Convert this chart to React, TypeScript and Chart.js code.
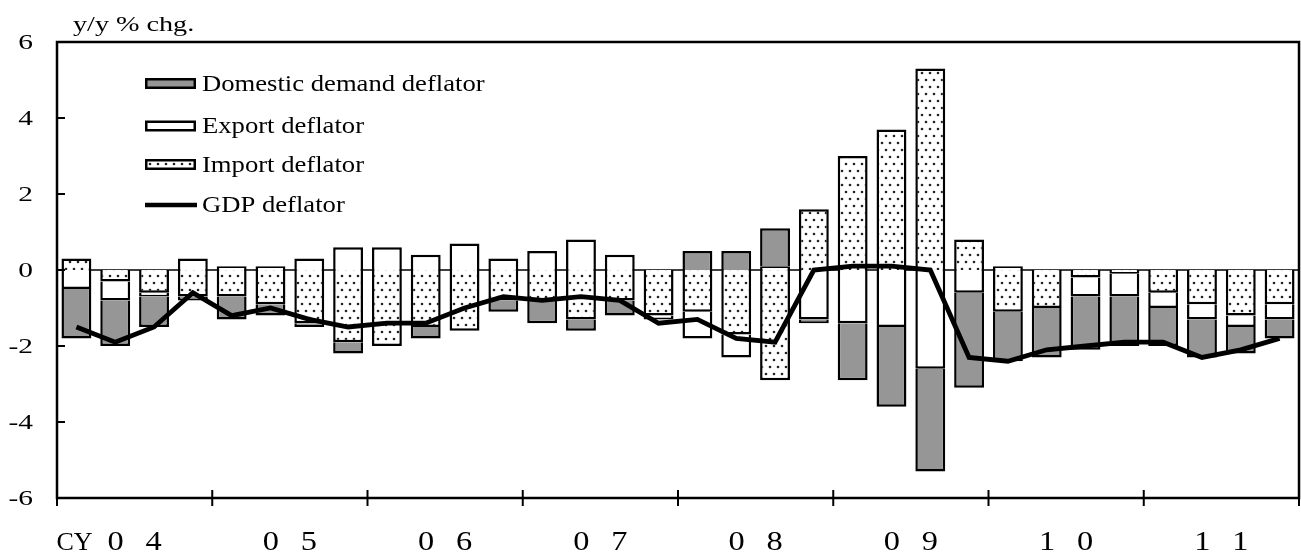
import React, { useEffect, useRef } from "react";
import { Chart, registerables } from "chart.js";

Chart.register(...registerables);

// ---- Data ----
const years = ["04", "05", "06", "07", "08", "09", "10", "11"];
const quarterLabels = years.flatMap((y) => ["Q1", "Q2", "Q3", "Q4"].map((q) => `${y}${q}`));

const domesticDemand = [
  -1.3, -1.2, -0.8, -0.1, -0.6, -0.3, -0.1, -0.3,
  0, -0.3, 0, -0.3, -0.6, -0.3, -0.4, 0,
  0.5, 0.5, 1.0, -0.1, -1.5, -2.1, -2.7, -2.5,
  -1.3, -1.3, -1.4, -1.3, -1.0, -1.0, -0.7, -0.5,
];
const exportDeflator = [
  -0.5, -0.5, -0.1, 0.3, 0.1, 0.1, 0.3, 0.6,
  0.6, 0.4, 0.7, 0.3, 0.5, 0.8, 0.4, -0.1,
  -0.7, -0.6, 0.1, -1.3, -1.4, -1.5, -2.6, -0.6,
  0.1, 0, -0.5, -0.6, -0.4, -0.4, -0.3, -0.4,
];
const importDeflator = [
  0.3, -0.3, -0.6, -0.7, -0.7, -0.9, -1.4, -1.9,
  -2.0, -1.5, -1.6, -0.8, -0.8, -1.3, -0.8, -1.2,
  -1.1, -1.7, -2.9, 1.6, 3.0, 3.7, 5.3, 0.8,
  -1.1, -1.0, -0.2, -0.1, -0.6, -0.9, -1.2, -0.9,
];
const gdpDeflator = [
  -1.5, -1.9, -1.5, -0.6, -1.2, -1.0, -1.3, -1.5,
  -1.4, -1.4, -1.0, -0.7, -0.8, -0.7, -0.8, -1.4,
  -1.3, -1.8, -1.9, 0.0, 0.1, 0.1, 0.0, -2.3,
  -2.4, -2.1, -2.0, -1.9, -1.9, -2.3, -2.1, -1.8,
];
const yTicks = [-6, -4, -2, 0, 2, 4, 6];
const legendLabels = ["Domestic demand deflator", "Export deflator", "Import deflator", "GDP deflator"];
const yTitle = "y/y % chg.";
const xPrefix = "CY";

const GRAY = "#969696";
const SERIF = "'Liberation Serif', 'Times New Roman', serif";

function makeDotPattern(): CanvasPattern | string {
  const c = document.createElement("canvas");
  c.width = 8;
  c.height = 14;
  const g = c.getContext("2d");
  if (!g) return "#fff";
  g.fillStyle = "#fff";
  g.fillRect(0, 0, 8, 14);
  g.fillStyle = "#222";
  g.beginPath();
  g.arc(2, 3, 1.3, 0, Math.PI * 2);
  g.fill();
  g.beginPath();
  g.arc(6, 10, 1.3, 0, Math.PI * 2);
  g.fill();
  const p = g.createPattern(c, "repeat");
  return p || "#fff";
}

function drawText(
  ctx: CanvasRenderingContext2D,
  text: string,
  x: number,
  y: number,
  size: number,
  sx: number,
  align: "left" | "right" | "center",
  baseline: CanvasTextBaseline = "alphabetic"
) {
  ctx.save();
  ctx.font = `${size}px ${SERIF}`;
  ctx.textBaseline = baseline;
  ctx.textAlign = "left";
  const w = ctx.measureText(text).width * sx;
  const left = align === "right" ? x - w : align === "center" ? x - w / 2 : x;
  ctx.translate(left, y);
  ctx.scale(sx, 1);
  ctx.fillStyle = "#000";
  ctx.fillText(text, 0, 0);
  ctx.restore();
}

export default function App() {
  const ref = useRef<HTMLCanvasElement | null>(null);

  useEffect(() => {
    if (!ref.current) return;
    const dots = makeDotPattern();
    const nz = (arr: number[]) => arr.map((v) => (v === 0 ? null : v));

    const decor = {
      id: "decor",
      beforeDatasetsDraw(chart: any) {
        const { ctx, chartArea, scales } = chart;
        const y0 = scales.y.getPixelForValue(0);
        ctx.save();
        ctx.strokeStyle = "#000";
        ctx.lineWidth = 1.5;
        ctx.beginPath();
        ctx.moveTo(chartArea.left, y0);
        ctx.lineTo(chartArea.right, y0);
        ctx.stroke();
        ctx.restore();
      },
      afterDraw(chart: any) {
        const { ctx, chartArea, scales } = chart;
        const { left, right, top, bottom } = chartArea;
        const xs = scales.x;
        const ys = scales.y;
        ctx.save();
        ctx.strokeStyle = "#000";
        ctx.lineWidth = 2.5;
        ctx.strokeRect(left, top, right - left, bottom - top);

        // y ticks (inside) and labels
        ctx.lineWidth = 2;
        yTicks.forEach((v) => {
          const py = ys.getPixelForValue(v);
          ctx.beginPath();
          ctx.moveTo(left, py);
          ctx.lineTo(left + 8, py);
          ctx.stroke();
          drawText(ctx, String(v), 33, py + 1, 21, 1.4, "right", "middle");
        });

        // x year ticks and labels
        const qw = xs.getPixelForValue(1) - xs.getPixelForValue(0);
        years.forEach((yr, i) => {
          const x0 = xs.getPixelForValue(i * 4) - qw / 2;
          ctx.beginPath();
          ctx.moveTo(x0, bottom - 8);
          ctx.lineTo(x0, bottom + 8);
          ctx.stroke();
          const cx = (xs.getPixelForValue(i * 4) + xs.getPixelForValue(i * 4 + 3)) / 2;
          const chars = yr.split("");
          drawText(ctx, chars[0], cx - 19, 550, 27, 1.2, "center");
          drawText(ctx, chars[1], cx + 19, 550, 27, 1.2, "center");
          if (i === 0) drawText(ctx, xPrefix, cx - 42, 550, 26, 1.0, "right");
        });
        const xEnd = xs.getPixelForValue(years.length * 4 - 1) + qw / 2;
        ctx.beginPath();
        ctx.moveTo(xEnd, bottom - 8);
        ctx.lineTo(xEnd, bottom + 8);
        ctx.stroke();

        // title
        drawText(ctx, yTitle, 73, 31, 22, 1.28, "left");

        // legend
        const rows = [83.5, 126, 164.5, 205];
        const fills: any[] = [GRAY, "#fff", dots];
        rows.forEach((cy, i) => {
          if (i < 3) {
            ctx.fillStyle = fills[i];
            ctx.fillRect(145, cy - 5.5, 51, 11);
            ctx.lineWidth = 2.5;
            ctx.strokeStyle = "#000";
            ctx.strokeRect(146.25, cy - 4.25, 48.5, 8.5);
          } else {
            ctx.lineWidth = 4.5;
            ctx.strokeStyle = "#000";
            ctx.beginPath();
            ctx.moveTo(145, cy);
            ctx.lineTo(197, cy);
            ctx.stroke();
          }
          drawText(ctx, legendLabels[i], 202, cy + 1, 24, 1.11, "left", "middle");
        });
        ctx.restore();
      },
    };

    const chart = new Chart(ref.current, {
      type: "bar",
      data: {
        labels: quarterLabels,
        datasets: [
          {
            type: "line",
            label: legendLabels[3],
            data: gdpDeflator,
            borderColor: "#000",
            borderWidth: 4.8,
            pointRadius: 0,
            fill: false,
            tension: 0,
            order: 0,
            stack: "gdp",
          } as any,
          {
            type: "bar",
            label: legendLabels[2],
            data: nz(importDeflator),
            backgroundColor: dots as any,
            borderColor: "#000",
            borderWidth: 2.5,
            stack: "defl",
            order: 1,
            barPercentage: 0.77,
            categoryPercentage: 1,
          },
          {
            type: "bar",
            label: legendLabels[1],
            data: nz(exportDeflator),
            backgroundColor: "#fff",
            borderColor: "#000",
            borderWidth: 2.5,
            stack: "defl",
            order: 1,
            barPercentage: 0.77,
            categoryPercentage: 1,
          },
          {
            type: "bar",
            label: legendLabels[0],
            data: nz(domesticDemand),
            backgroundColor: GRAY,
            borderColor: "#000",
            borderWidth: 2.5,
            stack: "defl",
            order: 1,
            barPercentage: 0.77,
            categoryPercentage: 1,
          },
        ],
      },
      options: {
        animation: false,
        responsive: true,
        maintainAspectRatio: false,
        layout: { padding: { left: 57, right: 2, top: 42, bottom: 58 } },
        plugins: { legend: { display: false }, tooltip: { enabled: false } },
        scales: {
          x: { display: false, stacked: true, offset: true },
          y: { display: false, stacked: true, min: -6, max: 6 },
        },
      },
      plugins: [decor],
    });
    return () => chart.destroy();
  }, []);

  return (
    <div style={{ position: "absolute", left: 0, top: 0, width: 1301, height: 556, background: "#fff" }}>
      <canvas ref={ref} />
    </div>
  );
}
